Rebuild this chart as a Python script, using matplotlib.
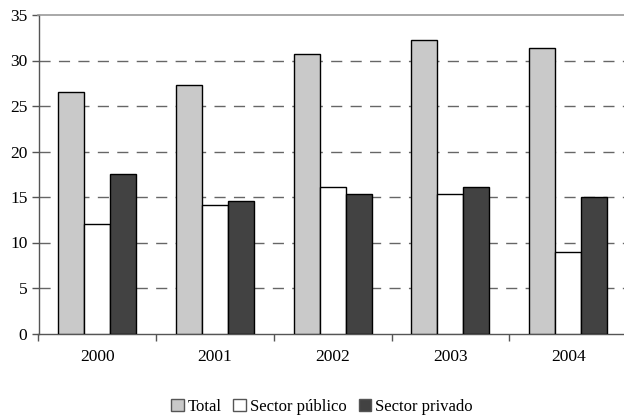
import matplotlib
matplotlib.use("Agg")
import matplotlib.pyplot as plt
import numpy as np
from matplotlib.patches import Patch

years = ["2000", "2001", "2002", "2003", "2004"]
total = [26.5, 27.3, 30.7, 32.2, 31.4]
publico = [12.0, 14.1, 16.1, 15.3, 9.0]
privado = [17.5, 14.6, 15.3, 16.1, 15.0]
series_names = ["Total", "Sector público", "Sector privado"]

plt.rcParams["font.family"] = ["Liberation Serif", "DejaVu Serif"]

W, H = 624, 417
fig = plt.figure(figsize=(W / 100, H / 100), dpi=100)
left, right, top, bottom = 38.5, 627, 15, 333.5
ax = fig.add_axes([left / W, 1 - bottom / H, (right - left) / W, (bottom - top) / H])

x = np.arange(len(years))
bw = 0.221
colors = ["#c9c9c9", "#ffffff", "#424242"]
for i, (vals, c) in enumerate(zip([total, publico, privado], colors)):
    ax.bar(x + (i - 1) * bw, vals, bw, color=c, edgecolor="black", linewidth=1.0, zorder=3)

ax.set_xlim(-0.5, len(years) - 0.5)
ax.set_ylim(0, 35)
ax.set_yticks(range(0, 36, 5))
ax.set_xticks(x)
ax.set_xticklabels(years)
ax.set_xticks(np.arange(-0.5, len(years), 1.0), minor=True)
ax.tick_params(axis="x", which="major", length=0, pad=11, labelsize=12.5)
ax.tick_params(axis="x", which="minor", length=5, width=1, color="#555555")
ax.tick_params(axis="y", length=5, width=1, color="#555555", labelsize=12.5, pad=3)

for v in range(5, 35, 5):
    ax.axhline(v, color="#666666", linewidth=1, dashes=(8, 6), zorder=1)

for s in ["left", "bottom"]:
    ax.spines[s].set_color("#555555")
    ax.spines[s].set_linewidth(1)
ax.spines["top"].set_color("#999999")
ax.spines["top"].set_linewidth(1.2)
ax.spines["right"].set_visible(False)

handles = [Patch(facecolor=c, edgecolor="#555555", linewidth=1) for c in colors]
fig.legend(handles, series_names, loc="center", bbox_to_anchor=(322 / W, 1 - 407 / H),
           ncol=3, frameon=False, fontsize=12, handlelength=0.75, handleheight=0.75,
           handletextpad=0.25, columnspacing=0.7)

fig.savefig("out.png", dpi=100)
